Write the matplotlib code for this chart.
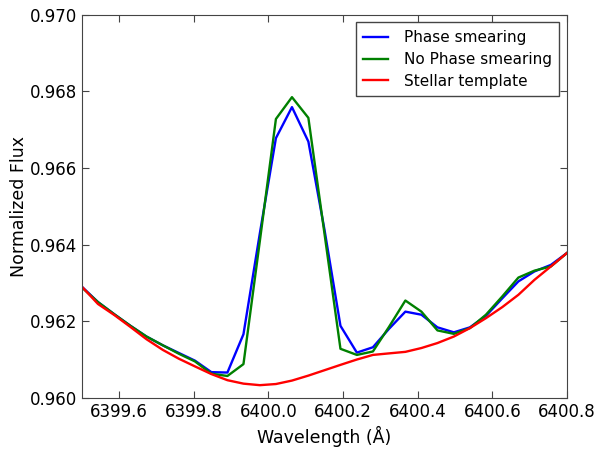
import matplotlib
matplotlib.use('Agg')
import matplotlib.pyplot as plt
from matplotlib.ticker import FormatStrFormatter

# wavelength grid (Angstrom)
wavelength = [6399.500, 6399.543, 6399.587, 6399.630, 6399.673, 6399.717, 6399.760,
              6399.803, 6399.847, 6399.890, 6399.933, 6399.977, 6400.020, 6400.063,
              6400.107, 6400.150, 6400.193, 6400.237, 6400.280, 6400.323, 6400.367,
              6400.410, 6400.453, 6400.497, 6400.540, 6400.583, 6400.627, 6400.670,
              6400.713, 6400.757, 6400.800]

phase_smearing = [0.96290, 0.96250, 0.96218, 0.96188, 0.96160, 0.96137, 0.96117,
                  0.96097, 0.96067, 0.96066, 0.96166, 0.96430, 0.96678, 0.96759,
                  0.96669, 0.96440, 0.96188, 0.96118, 0.96132, 0.96180, 0.96225,
                  0.96217, 0.96184, 0.96171, 0.96184, 0.96214, 0.96260, 0.96304,
                  0.96330, 0.96347, 0.96378]

no_phase_smearing = [0.96288, 0.96250, 0.96218, 0.96188, 0.96160, 0.96137, 0.96115,
                     0.96095, 0.96063, 0.96057, 0.96088, 0.96410, 0.96728, 0.96785,
                     0.96731, 0.96430, 0.96128, 0.96112, 0.96121, 0.96185, 0.96254,
                     0.96225, 0.96176, 0.96167, 0.96182, 0.96217, 0.96265, 0.96314,
                     0.96332, 0.96343, 0.96378]

stellar_template = [0.96290, 0.96245, 0.96216, 0.96185, 0.96153, 0.96125, 0.96102,
                    0.96082, 0.96062, 0.96046, 0.96037, 0.96033, 0.96036, 0.96045,
                    0.96058, 0.96072, 0.96086, 0.96100, 0.96112, 0.96116, 0.96120,
                    0.96130, 0.96143, 0.96160, 0.96182, 0.96208, 0.96237, 0.96269,
                    0.96308, 0.96343, 0.96378]

plt.rcParams['font.size'] = 12
plt.rcParams['xtick.direction'] = 'in'
plt.rcParams['ytick.direction'] = 'in'

fig = plt.figure(figsize=(5.98, 4.49), dpi=100)
ax = fig.add_axes([0.137, 0.114, 0.811, 0.853])

ax.plot(wavelength, phase_smearing, color='b', lw=1.7, label='Phase smearing')
ax.plot(wavelength, no_phase_smearing, color='g', lw=1.7, label='No Phase smearing')
ax.plot(wavelength, stellar_template, color='r', lw=1.7, label='Stellar template')

ax.set_xlim(6399.5, 6400.8)
ax.set_ylim(0.960, 0.970)
ax.set_xticks([6399.6, 6399.8, 6400.0, 6400.2, 6400.4, 6400.6, 6400.8])
ax.set_yticks([0.960, 0.962, 0.964, 0.966, 0.968, 0.970])
ax.xaxis.set_major_formatter(FormatStrFormatter('%.1f'))
ax.yaxis.set_major_formatter(FormatStrFormatter('%.3f'))
ax.tick_params(top=True, right=True, length=5, color='#444444', labelsize=12)
for s in ax.spines.values():
    s.set_color('#444444')

ax.set_xlabel('Wavelength (Å)', fontsize=12.5)
ax.set_ylabel('Normalized Flux', fontsize=12.5, labelpad=1.5)

leg = ax.legend(loc='upper right', fontsize=11, borderaxespad=0.5, borderpad=0.5,
                fancybox=False, framealpha=1, edgecolor='#444444',
                handlelength=1.6, handletextpad=1.05, labelspacing=0.45)
leg.get_frame().set_linewidth(1.0)

fig.savefig('out.png', dpi=100)
